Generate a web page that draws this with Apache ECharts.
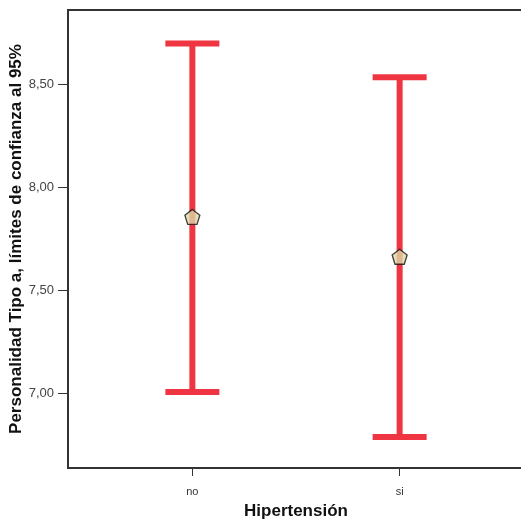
<!DOCTYPE html>
<html>
<head>
<meta charset="utf-8">
<script src="https://cdn.jsdelivr.net/npm/echarts@6/dist/echarts.min.js"></script>
<style>html,body{margin:0;padding:0;background:#fff}#c{width:521px;height:523px}</style>
</head>
<body>
<div id="c"></div>
<script>
var categories = ['no', 'si'];
var meanValues = [7.857, 7.664];
var lowerValues = [7.008, 6.79];
var upperValues = [8.698, 8.534];
var yTicks = [7.0, 7.5, 8.0, 8.5];

var chart = echarts.init(document.getElementById('c'));
var barData = categories.map(function (c, i) { return [i, lowerValues[i], upperValues[i]]; });
var meanData = categories.map(function (c, i) { return [i, meanValues[i]]; });
var font = 'Liberation Sans, Arial, sans-serif';

chart.setOption({
  animation: false,
  grid: { left: 68, right: -3, top: 10, bottom: 55, containLabel: false, outerBoundsMode: 'none',
    show: true, borderColor: '#333', borderWidth: 2, backgroundColor: '#fff' },
  xAxis: {
    type: 'value', min: -0.6, max: 1.6,
    name: 'Hipertensión', nameLocation: 'middle', nameGap: 35, nameMoveOverlap: false,
    nameTextStyle: { fontFamily: font, fontSize: 17, fontWeight: 'bold', color: '#111' },
    axisLine: { show: true, onZero: false, lineStyle: { color: '#333', width: 2 } },
    axisTick: { show: true, length: 8, lineStyle: { color: '#333', width: 1 }, customValues: [0, 1] },
    axisLabel: { margin: 18, fontFamily: font, fontSize: 11, color: '#333', customValues: [0, 1],
      formatter: function (v) { return categories[Math.round(v)]; } },
    splitLine: { show: false }
  },
  yAxis: {
    type: 'value', min: 6.64, max: 8.86,
    name: 'Personalidad Tipo a, límites de confianza al 95%', nameLocation: 'middle', nameGap: 43, nameMoveOverlap: false,
    nameTextStyle: { fontFamily: font, fontSize: 17, fontWeight: 'bold', color: '#111' },
    axisLine: { show: true, onZero: false, lineStyle: { color: '#333', width: 2 } },
    axisTick: { show: true, length: 10, lineStyle: { color: '#333', width: 1 }, customValues: yTicks },
    axisLabel: { margin: 14, fontFamily: font, fontSize: 13, color: '#444', customValues: yTicks,
      formatter: function (v) { return v.toFixed(2).replace('.', ','); } },
    splitLine: { show: false }
  },
  series: [
    {
      type: 'custom',
      data: barData,
      renderItem: function (params, api) {
        var x = api.value(0);
        var lo = api.coord([x, api.value(1)]);
        var hi = api.coord([x, api.value(2)]);
        var hw = 27;
        var style = { stroke: '#ef3541', lineWidth: 6, lineCap: 'butt' };
        return {
          type: 'group',
          children: [
            { type: 'line', shape: { x1: hi[0], y1: hi[1], x2: lo[0], y2: lo[1] }, style: style },
            { type: 'line', shape: { x1: hi[0] - hw, y1: hi[1], x2: hi[0] + hw, y2: hi[1] }, style: style },
            { type: 'line', shape: { x1: lo[0] - hw, y1: lo[1], x2: lo[0] + hw, y2: lo[1] }, style: style }
          ]
        };
      },
      z: 2
    },
    {
      type: 'scatter',
      data: meanData,
      symbol: 'path://M0,-1 L0.951,-0.309 L0.588,0.809 L-0.588,0.809 L-0.951,-0.309 Z',
      symbolSize: 15,
      itemStyle: { color: '#ddd8a8', borderColor: '#111', borderWidth: 1.3 },
      z: 3
    }
  ]
});
</script>
</body>
</html>
